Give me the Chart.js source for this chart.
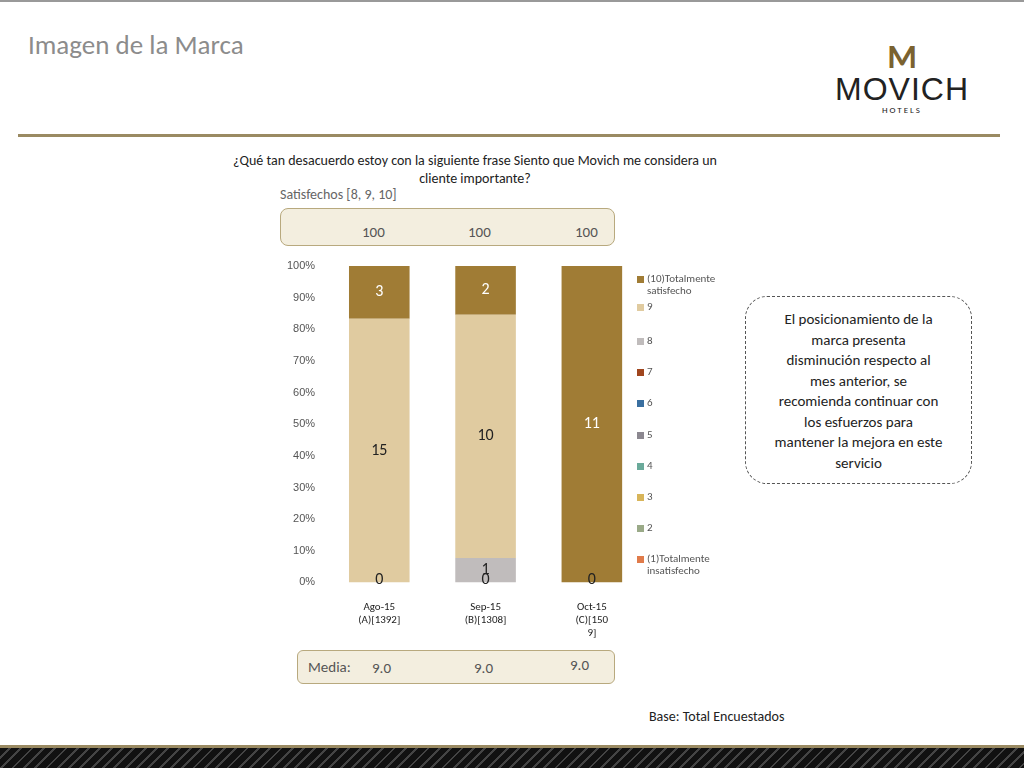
<!DOCTYPE html>
<html><head><meta charset="utf-8">
<script src="https://cdn.jsdelivr.net/npm/chart.js@4"></script>
<style>
body{margin:0;width:1024px;height:768px;position:relative;font-family:Calibri,"Liberation Sans",Carlito,sans-serif;background:#fff;overflow:hidden}
.abs{position:absolute}
</style></head><body>
<div class="abs" style="left:0;top:0;width:1024px;height:2px;background:#999"></div>
<div class="abs" style="left:28px;top:28px;font-size:27px;color:#8c8c8c">Imagen de la Marca</div>
<div class="abs" style="left:818px;top:40px;width:168px;text-align:center">
  <div style="font-size:34px;color:#7a6230;font-weight:bold;line-height:34px">M</div>
  <div style="font-size:32px;color:#222;letter-spacing:1px;line-height:30px;font-family:'Liberation Sans'">MOVICH</div>
  <div style="font-size:9px;color:#222;letter-spacing:2px">HOTELS</div>
</div>
<div class="abs" style="left:18px;top:134px;width:982px;height:3px;background:#9a8a62"></div>
<div class="abs" style="left:225px;top:152px;width:500px;text-align:center;font-size:14px;color:#222;line-height:18px">¿Qué tan desacuerdo estoy con la siguiente frase Siento que Movich me considera un cliente importante?</div>
<div class="abs" style="left:280px;top:186px;font-size:14px;color:#666">Satisfechos [8, 9, 10]</div>
<div class="abs" style="left:280px;top:208px;width:333px;height:36px;border:1.5px solid #b8a97e;border-radius:8px;background:#f3eedf"></div>
<div class="abs" style="left:362px;top:223px;font-size:15px;color:#555">100</div>
<div class="abs" style="left:468px;top:223px;font-size:15px;color:#555">100</div>
<div class="abs" style="left:575px;top:223px;font-size:15px;color:#555">100</div>
<div class="abs" style="left:297px;top:650px;width:316px;height:32px;border:1.5px solid #b8a97e;border-radius:6px;background:#f3eedf"></div>
<div class="abs" style="left:308px;top:658px;font-size:15px;color:#555">Media:</div>
<div class="abs" style="left:372px;top:659px;font-size:15px;color:#555">9.0</div>
<div class="abs" style="left:474px;top:659px;font-size:15px;color:#555">9.0</div>
<div class="abs" style="left:570px;top:656px;font-size:15px;color:#555">9.0</div>
<div class="abs" style="left:745px;top:296px;width:227px;height:188px;border:1.5px dashed #555;border-radius:22px;box-sizing:border-box;padding:12px 28px;text-align:center;font-size:15px;line-height:20.5px;color:#222">El posicionamiento de la marca presenta disminución respecto al mes anterior, se recomienda continuar con los esfuerzos para mantener la mejora en este servicio</div>
<div class="abs" style="left:649px;top:708px;font-size:14px;color:#222">Base: Total Encuestados</div>
<div class="abs" style="left:0;top:745px;width:1024px;height:3px;background:#9a8a62"></div>
<div class="abs" style="left:0;top:748px;width:1024px;height:20px;background:repeating-linear-gradient(135deg,#111 0 6px,#444 6px 8px)"></div>
<div class="abs" style="left:280px;top:255px;width:460px;height:395px"><canvas id="c"></canvas></div>
<div id="leg" class="abs" style="left:637px;top:273px;width:100px;font-size:11px;color:#555;line-height:12px"></div>
<script>
const categories = [['Ago-15','(A)[1392]'], ['Sep-15','(B)[1308]'], ['Oct-15','(C)[150','9]']];
const seriesNames = ['(1)Totalmente insatisfecho','2','3','4','5','6','7','8','9','(10)Totalmente satisfecho'];
const seriesColors = ['#e07b4a','#9aaa88','#d8b55a','#6aaa9a','#8c8890','#3a6fa0','#a0461e','#c0bcbc','#e0cba0','#a07c35'];
// counts per rating, per month
const counts = [
  [0,0,0],[0,0,0],[0,0,0],[0,0,0],[0,0,0],[0,0,0],[0,0,0],
  [0,1,0],
  [15,10,0],
  [3,2,11]
];
const totals = categories.map((_, i) => counts.reduce((s, r) => s + r[i], 0));

const leg = document.getElementById('leg');
const tops = [0, 28, 62, 93, 124, 156, 187, 218, 249, 280];
seriesNames.slice().reverse().forEach((n, k) => {
  const d = document.createElement('div');
  d.className = 'abs';
  d.style.cssText = 'left:0;top:' + tops[k] + 'px;width:100px;padding-left:10px;';
  d.innerHTML = '<span style="position:absolute;left:0;top:3px;width:7px;height:7px;background:' + seriesColors[9 - k] + '"></span>' + n;
  leg.appendChild(d);
});

const labelPlugin = {
  id: 'counts',
  afterDatasetsDraw(chart) {
    const ctx = chart.ctx;
    ctx.save();
    ctx.font = '16px Calibri, Carlito, "Liberation Sans", sans-serif';
    ctx.textAlign = 'center';
    ctx.textBaseline = 'middle';
    chart.data.datasets.forEach((ds, di) => {
      chart.getDatasetMeta(di).data.forEach((bar, i) => {
        const v = counts[di][i];
        if (v === 0 && di !== 0) return;
        ctx.fillStyle = (di === 9) ? '#fff' : '#222';
        const y = v === 0 ? bar.y - 2 : (bar.y + bar.base) / 2;
        ctx.fillText(v, bar.x, y);
      });
    });
    ctx.restore();
  }
};

new Chart(document.getElementById('c'), {
  type: 'bar',
  data: {
    labels: categories,
    datasets: seriesNames.map((n, i) => ({
      label: n,
      data: counts[i].map((v, j) => v / totals[j] * 100),
      backgroundColor: seriesColors[i],
      barPercentage: 0.57,
      categoryPercentage: 1
    }))
  },
  options: {
    responsive: true, maintainAspectRatio: false, animation: false,
    layout: { padding: { left: 4, right: 95, top: 11, bottom: 0 } },
    plugins: { legend: { display: false }, tooltip: { enabled: false } },
    scales: {
      x: { stacked: true, grid: { display: false }, border: { display: false },
           ticks: { color: '#222', font: { size: 11, family: 'Calibri, Carlito, "Liberation Sans"' }, maxRotation: 0, padding: 10 } },
      y: { stacked: true, min: 0, max: 100, grid: { display: false }, border: { display: false },
           ticks: { stepSize: 10, color: '#555', font: { size: 11 }, callback: v => v + '%' } }
    }
  },
  plugins: [labelPlugin]
});
</script>
</body></html>
